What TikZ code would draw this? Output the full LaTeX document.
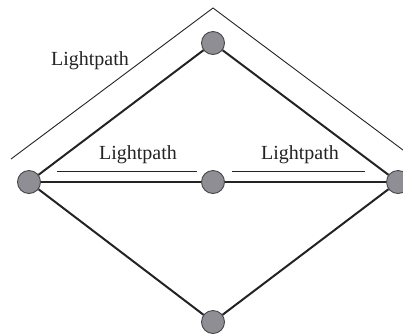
\documentclass[tikz,border=0pt]{standalone}
\usepackage{fontspec}
\setmainfont{Liberation Serif}
\definecolor{nodefill}{RGB}{142,142,148}
\definecolor{nodeline}{RGB}{70,70,72}
\definecolor{ink}{RGB}{35,35,35}
\tikzset{
  site/.style={circle, draw=nodeline, line width=0.9pt, fill=nodefill, minimum size=23pt, inner sep=0pt},
  link/.style={draw=ink, line width=2pt},
  hlink/.style={draw=ink, line width=1.2pt},
  lp/.style={draw=ink, line width=0.9pt},
  lbl/.style={font=\fontsize{20}{24}\selectfont, text=ink, inner sep=0pt}
}
\begin{document}
\begin{tikzpicture}[x=1pt, y=-1pt]
\useasboundingbox (0,0) rectangle (403,333);
\clip (0,0) rectangle (403,333);
% chevron
\coordinate (cl) at (11,159);
\coordinate (ca) at (213,8);
\coordinate (cr) at (415,159);
\draw[lp] (cl) -- (ca) -- (cr);
% nodes
\node[site] (T) at (213,43) {};
\node[site] (L) at (29,182) {};
\node[site] (C) at (213,182) {};
\node[site] (R) at (398,182) {};
\node[site] (B) at (213,322) {};
% links
\draw[link] (L) -- (T);
\draw[link] (T) -- (R);
\draw[link] (L) -- (B);
\draw[link] (B) -- (R);
\draw[hlink] (L) -- (C);
\draw[hlink] (C) -- (R);
% lightpath lines
\coordinate (a1) at (57,171);
\coordinate (a2) at (197,171);
\coordinate (b1) at (232,171);
\coordinate (b2) at (365,171);
\draw[lp] (a1) -- (a2);
\draw[lp] (b1) -- (b2);
% labels
\node[lbl] (t1) at (90,61) {Lightpath};
\node[lbl] (t2) at (138,155) {Lightpath};
\node[lbl] (t3) at (300,155) {Lightpath};
\end{tikzpicture}
\end{document}
